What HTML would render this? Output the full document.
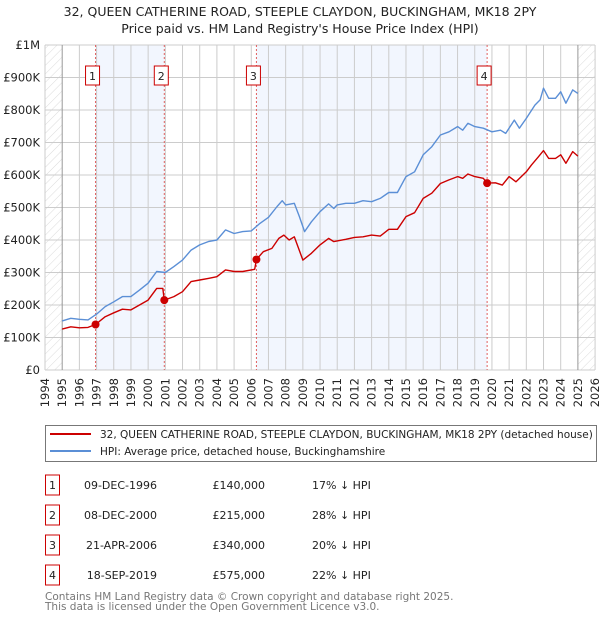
<!DOCTYPE html>
<html><head><meta charset="utf-8"><style>
body{margin:0;background:#fff;width:600px;height:620px;overflow:hidden;font-family:"DejaVu Sans","Liberation Sans",sans-serif}
svg{position:absolute;left:0;top:0}
</style></head><body>
<svg id="c" width="600" height="620" xmlns="http://www.w3.org/2000/svg">
<defs><pattern id="hatch" width="6" height="6" patternUnits="userSpaceOnUse" patternTransform="rotate(45)"><line x1="0" y1="0" x2="0" y2="6" stroke="#ccc" stroke-width="0.7"/></pattern></defs>
<text x="300" y="16" text-anchor="middle" font-size="12.5" fill="#222">32, QUEEN CATHERINE ROAD, STEEPLE CLAYDON, BUCKINGHAM, MK18 2PY</text>
<text x="300" y="33" text-anchor="middle" font-size="12.5" fill="#222">Price paid vs. HM Land Registry's House Price Index (HPI)</text>
<g id="plot"></g>
<g>
<rect x="45.5" y="425.5" width="551" height="36" fill="#fff" stroke="#777"/>
<line x1="50" y1="434" x2="91" y2="434" stroke="#cc0000" stroke-width="2"/>
<text x="100" y="438" font-size="10.5" fill="#222">32, QUEEN CATHERINE ROAD, STEEPLE CLAYDON, BUCKINGHAM, MK18 2PY (detached house)</text>
<line x1="50" y1="451" x2="91" y2="451" stroke="#5b8fd6" stroke-width="2"/>
<text x="100" y="455" font-size="10.5" fill="#222">HPI: Average price, detached house, Buckinghamshire</text>
</g>
<g id="table"></g>
<text x="45" y="600" font-size="10.5" fill="#777">Contains HM Land Registry data © Crown copyright and database right 2025.</text>
<text x="45" y="610" font-size="10.5" fill="#777">This data is licensed under the Open Government Licence v3.0.</text>
</svg>
<script>
const yTicks=[0,100000,200000,300000,400000,500000,600000,700000,800000,900000,1000000];
const yTickLabels=["£0","£100K","£200K","£300K","£400K","£500K","£600K","£700K","£800K","£900K","£1M"];
const hpiYears=[1995,1995.5,1996,1996.5,1997,1997.5,1998,1998.5,1999,1999.5,2000,2000.5,2001,2001.5,2002,2002.5,2003,2003.5,2004,2004.5,2005,2005.5,2006,2006.5,2007,2007.5,2007.8,2008,2008.5,2008.8,2009.1,2009.5,2010,2010.5,2010.8,2011,2011.5,2012,2012.5,2013,2013.5,2014,2014.5,2015,2015.5,2016,2016.5,2017,2017.5,2018,2018.3,2018.6,2019,2019.5,2020,2020.5,2020.8,2021.3,2021.6,2022,2022.5,2022.8,2023,2023.3,2023.7,2024,2024.3,2024.7,2025];
const hpiValues=[151,159,156,154,172,195,210,226,226,246,267,303,300,318,338,369,385,395,400,431,420,426,428,451,470,503,521,508,513,472,426,456,487,511,497,508,513,513,521,518,528,546,546,595,610,662,687,723,733,749,738,759,749,744,733,738,728,769,744,774,815,831,867,836,836,856,821,862,851];
const priceYears=[1995,1995.5,1996,1996.5,1996.94,1997.5,1998,1998.5,1999,1999.5,2000,2000.5,2000.85,2000.94,2001.5,2002,2002.5,2003,2003.5,2004,2004.5,2005,2005.5,2006.2,2006.3,2006.7,2007.2,2007.6,2007.9,2008.2,2008.5,2009,2009.5,2010,2010.5,2010.8,2011.5,2012,2012.5,2013,2013.5,2014,2014.5,2015,2015.5,2016,2016.5,2017,2017.5,2018,2018.3,2018.6,2019,2019.5,2019.72,2020.2,2020.6,2021,2021.4,2022,2022.3,2022.7,2023,2023.3,2023.7,2024,2024.3,2024.7,2025];
const priceValues=[126,133,130,131,140,164,176,187,185,200,215,251,251,215,226,241,272,277,282,287,308,303,303,310,340,364,374,405,415,400,410,338,359,385,405,395,402,408,410,415,412,433,433,472,484,528,544,574,585,595,590,603,595,590,575,576,569,595,579,610,631,656,675,651,651,662,636,672,658];
const saleLabels=["1","2","3","4"];
const saleYears=[1996.94,2000.94,2006.3,2019.72];
const salePrices=[140000,215000,340000,575000];
const saleDates=["09-DEC-1996","08-DEC-2000","21-APR-2006","18-SEP-2019"];
const salePriceText=["£140,000","£215,000","£340,000","£575,000"];
const salePct=["17% ↓ HPI","28% ↓ HPI","20% ↓ HPI","22% ↓ HPI"];
const NS="http://www.w3.org/2000/svg";
const X=t=>45+(t-1994)*17.19;
const Y=v=>370-v/1e6*325;
const g=document.getElementById('plot');
function mk(tag,at,parent){const e=document.createElementNS(NS,tag);for(const k in at)e.setAttribute(k,at[k]);(parent||g).appendChild(e);return e;}
let e;
e=mk('rect',{x:X(saleYears[0]),y:45,width:X(saleYears[1])-X(saleYears[0]),height:325,fill:'#f2f6fe'});


e=mk('rect',{x:X(saleYears[2]),y:45,width:X(saleYears[3])-X(saleYears[2]),height:325,fill:'#f2f6fe'});


e=mk('rect',{x:45,y:45,width:X(1995)-45,height:325,fill:'url(#hatch)'});


e=mk('rect',{x:X(2025),y:45,width:X(2026)-X(2025),height:325,fill:'url(#hatch)'});


for(let i=0;i<yTicks.length;i++){
 e=mk('line',{x1:45,x2:595,y1:Y(yTicks[i]),y2:Y(yTicks[i]),stroke:'#ccc','stroke-width':1});
 
 
 e=mk('text',{x:40,y:Y(yTicks[i])+4,'text-anchor':'end','font-size':'11.5',fill:'#222'});
 e.textContent=yTickLabels[i];
 
 
}
for(let yr=1994;yr<=2026;yr++){
 const x=X(yr);
 e=mk('line',{x1:x,x2:x,y1:45,y2:370,stroke:(yr==1995||yr==2025)?'#999':'#ccc','stroke-width':1});
 
 
 e=mk('text',{x:0,y:0,'text-anchor':'end','font-size':'11.5',fill:'#222',transform:`translate(${x+4},378) rotate(-90)`});
 e.textContent=yr;
 
 
}
for(let i=0;i<saleYears.length;i++){
 e=mk('line',{x1:X(saleYears[i]),x2:X(saleYears[i]),y1:45,y2:370,stroke:'#e06060','stroke-width':1,'stroke-dasharray':'2,2'});
 
 
}
function path(xs,vs,col,name){
 let d='';for(let i=0;i<xs.length;i++)d+=(i?'L':'M')+X(xs[i]).toFixed(1)+','+Y(vs[i]*1000).toFixed(1);
 const p=mk('path',{d:d,fill:'none',stroke:col,'stroke-width':1.4,'stroke-linejoin':'round'});
 
 
}
path(hpiYears,hpiValues,'#5b8fd6','hpi-line');
path(priceYears,priceValues,'#cc0000','price-line');
for(let i=0;i<saleYears.length;i++){
 e=mk('circle',{cx:X(saleYears[i]),cy:Y(salePrices[i]),r:4,fill:'#cc0000'});
 
 
 const bx=X(saleYears[i])-10;
 e=mk('rect',{x:bx,y:66,width:14,height:19,fill:'#fff',stroke:'#cc0000','stroke-width':1});
 
 
 e=mk('text',{x:bx+7,y:80,'text-anchor':'middle','font-size':'11',fill:'#222'});
 e.textContent=saleLabels[i];
 
 
}
const tb=document.getElementById('table');
for(let i=0;i<saleLabels.length;i++){
 const cy=485+i*30;
 e=mk('rect',{x:45.5,y:cy-10,width:14,height:20,fill:'#fff',stroke:'#cc0000','stroke-width':1},tb);
 
 
 e=mk('text',{x:52.5,y:cy+4,'text-anchor':'middle','font-size':'11',fill:'#222'},tb);
 e.textContent=saleLabels[i];
 
 
 e=mk('text',{x:157,y:cy+4,'text-anchor':'end','font-size':'11',fill:'#222'},tb);
 e.textContent=saleDates[i];
 
 
 e=mk('text',{x:265,y:cy+4,'text-anchor':'end','font-size':'11',fill:'#222'},tb);
 e.textContent=salePriceText[i];
 
 
 e=mk('text',{x:312,y:cy+4,'font-size':'11',fill:'#222'},tb);
 e.textContent=salePct[i];
 
 
}
</script>
</body></html>
